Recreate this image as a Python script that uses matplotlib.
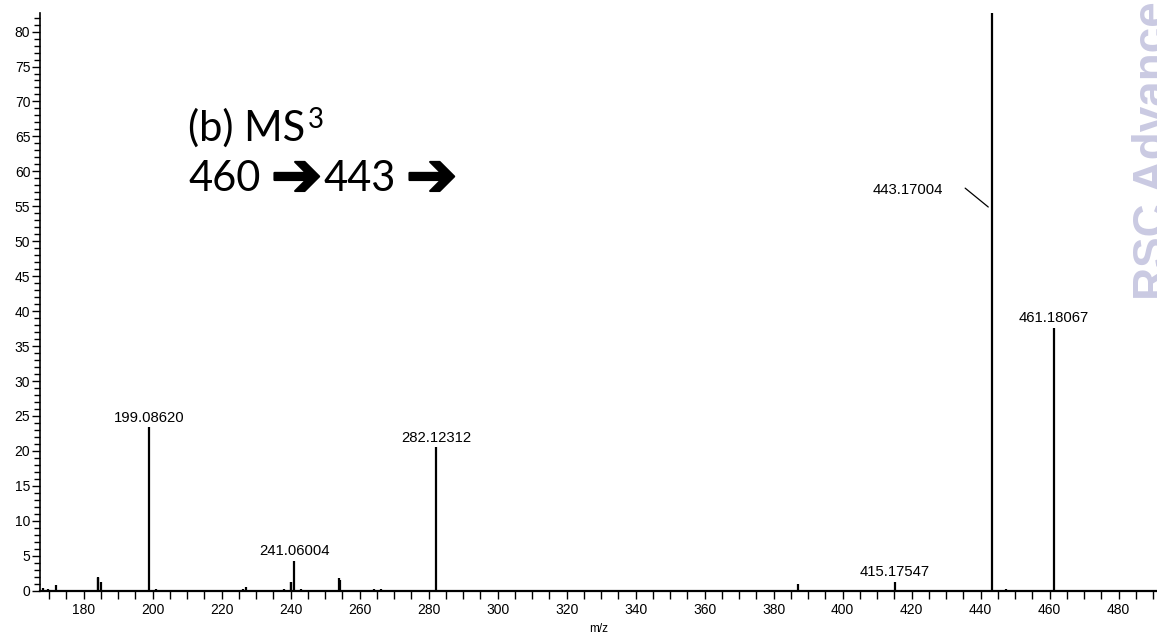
import numpy as np
import matplotlib
matplotlib.use('Agg')
import matplotlib.pyplot as plt
import matplotlib.patheffects as pe
from matplotlib.ticker import MultipleLocator

plt.rcParams['font.family'] = ['Liberation Sans', 'DejaVu Sans']

# centroid peaks (m/z, relative intensity)
mz = [168.4, 169.6, 171.9, 184.1, 184.3, 185.1, 199.08620, 201.1, 217.1, 226.2,
      227.1, 238.0, 240.0, 240.2, 241.06004, 243.1, 254.1, 254.2, 264.1, 266.1,
      282.12312, 387.2, 415.17547, 443.17004, 447.2, 461.18067]
intensity = [0.4, 0.2, 0.8, 2.0, 1.8, 1.3, 23.4, 0.2, 0.1, 0.3,
             0.6, 0.3, 1.3, 1.2, 4.3, 0.2, 1.8, 1.6, 0.3, 0.3,
             20.5, 1.0, 1.3, 100.0, 0.2, 37.6]

labelled = ['199.08620', '241.06004', '282.12312', '415.17547', '461.18067']

fig = plt.figure(figsize=(11.57, 6.38), dpi=100)
ax = fig.add_axes([0.0346, 0.0741, 0.9654, 0.9060])

ax.vlines(mz, 0, intensity, colors='black', linewidth=1.6)

ax.set_xlim(167.4, 491.1)
ax.set_ylim(0, 82.7)

ax.xaxis.set_major_locator(MultipleLocator(20))
ax.xaxis.set_minor_locator(MultipleLocator(5))
ax.yaxis.set_major_locator(MultipleLocator(5))
ax.yaxis.set_minor_locator(MultipleLocator(1))
ax.tick_params(axis='both', which='major', labelsize=10, length=6, width=1)
ax.tick_params(axis='x', which='major', pad=3)
ax.tick_params(axis='y', which='major', pad=1)
ax.tick_params(axis='x', which='minor', length=6, width=1)
ax.tick_params(axis='y', which='minor', length=4, width=1)

for s in ['top', 'right']:
    ax.spines[s].set_visible(False)
ax.spines['bottom'].set_linewidth(1.6)
ax.spines['left'].set_linewidth(1.2)

ax.set_xlabel('m/z', fontsize=8.5, labelpad=4)

for m, h in zip(mz, intensity):
    txt = f'{m:.5f}'
    if txt in labelled:
        ax.annotate(txt, (m, h), xytext=(0, 4), textcoords='offset points',
                    ha='center', va='baseline', fontsize=10.7)

# base peak goes off scale, so its label sits to the left with a leader line
ax.text(429.1, 57.3, '443.17004', ha='right', va='center', fontsize=10.7)
ax.annotate('', xy=(442.2, 54.9), xytext=(435.5, 57.6),
            arrowprops=dict(arrowstyle='-', color='black', lw=0.9,
                            shrinkA=0, shrinkB=0))

big = ['Lato', 'DejaVu Sans']
heavy = [pe.withStroke(linewidth=1.5, foreground='black')]
fig.text(0.1625, 0.779, '(b) MS', fontsize=30, family=big, va='baseline')
fig.text(0.2662, 0.7994, '3', fontsize=20, family=big, va='baseline')
fig.text(0.1625, 0.7006, '460', fontsize=30, family=big, va='baseline')
fig.text(0.2342, 0.6934, '\u2794', fontsize=44, family='DejaVu Sans',
         fontweight='bold', va='baseline', path_effects=heavy)
fig.text(0.2792, 0.7006, '443', fontsize=30, family=big, va='baseline')
fig.text(0.3509, 0.6934, '\u2794', fontsize=44, family='DejaVu Sans',
         fontweight='bold', va='baseline', path_effects=heavy)

fig.text(0.978, 0.53, 'RSC Advances', rotation=90, fontsize=33, fontweight='bold',
         color='#cacae2', ha='left', va='bottom')

fig.savefig('out.png', dpi=100)
